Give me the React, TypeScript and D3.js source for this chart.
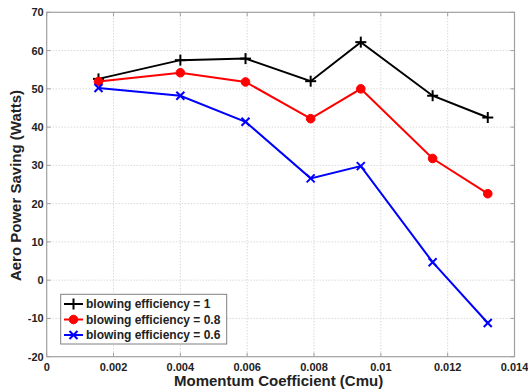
import React from "react";
import * as d3 from "d3";

const xValues = [0.00155, 0.004, 0.00595, 0.0079, 0.0094, 0.01155, 0.0132];
const effOne = [52.6, 57.5, 57.9, 52.0, 62.2, 48.2, 42.5];
const effPoint8 = [51.9, 54.2, 51.8, 42.2, 50.0, 31.8, 22.6];
const effPoint6 = [50.2, 48.2, 41.4, 26.6, 29.8, 4.7, -11.2];
const xTicks = [0, 0.002, 0.004, 0.006, 0.008, 0.01, 0.012, 0.014];
const yTicks = [-20, -10, 0, 10, 20, 30, 40, 50, 60, 70];
const seriesNames = ["blowing efficiency = 1", "blowing efficiency = 0.8", "blowing efficiency = 0.6"];
const seriesColors = ["#000000", "#ff0000", "#0000ff"];
const seriesMarkers = ["plus", "circle", "cross"];

const W = 528, H = 392;
const left = 46.7, right = 514.5, top = 12.3, bottom = 356.7;
const font = "Arial, 'Liberation Sans', Helvetica, sans-serif";

function Marker({ type, x, y, color }: { type: string; x: number; y: number; color: string }) {
  if (type === "plus") {
    return (
      <g stroke={color} strokeWidth={2}>
        <line x1={x - 5.5} x2={x + 5.5} y1={y} y2={y} />
        <line x1={x} x2={x} y1={y - 5.5} y2={y + 5.5} />
      </g>
    );
  }
  if (type === "circle") {
    return <circle cx={x} cy={y} r={4.3} fill={color} stroke={color} strokeWidth={1} />;
  }
  return (
    <g stroke={color} strokeWidth={2}>
      <line x1={x - 4} x2={x + 4} y1={y - 4} y2={y + 4} />
      <line x1={x - 4} x2={x + 4} y1={y + 4} y2={y - 4} />
    </g>
  );
}

export default function App() {
  const x = d3.scaleLinear().domain([0, 0.014]).range([left, right]);
  const y = d3.scaleLinear().domain([-20, 70]).range([bottom, top]);
  const series = [effOne, effPoint8, effPoint6];
  const line = d3
    .line<[number, number]>()
    .x((d) => x(d[0]))
    .y((d) => y(d[1]));
  const fmtX = (v: number) => (v === 0 ? "0" : String(+v.toFixed(3)));

  const lgX = 60.7, lgY = 294.3, lgW = 166, lgH = 49.7;
  const rowY = [304, 319.5, 335];

  return (
    <svg width={W} height={H} style={{ position: "absolute", left: 0, top: 0 }} fontFamily={font}>
      <rect x={0} y={0} width={W} height={H} fill="#ffffff" />
      {/* grid */}
      <g stroke="#c8c8c8" strokeWidth={1} strokeDasharray="1,2">
        {xTicks.slice(1, -1).map((t) => (
          <line key={"gx" + t} x1={x(t)} x2={x(t)} y1={top} y2={bottom} />
        ))}
        {yTicks.slice(1, -1).map((t) => (
          <line key={"gy" + t} x1={left} x2={right} y1={y(t)} y2={y(t)} />
        ))}
      </g>
      {/* frame */}
      <rect x={left} y={top} width={right - left} height={bottom - top} fill="none" stroke="#a0a0a0" strokeWidth={1.2} />
      {/* ticks */}
      <g stroke="#a0a0a0" strokeWidth={1}>
        {xTicks.map((t) => (
          <g key={"tx" + t}>
            <line x1={x(t)} x2={x(t)} y1={bottom} y2={bottom - 4} />
            <line x1={x(t)} x2={x(t)} y1={top} y2={top + 4} />
          </g>
        ))}
        {yTicks.map((t) => (
          <g key={"ty" + t}>
            <line x1={left} x2={left + 4} y1={y(t)} y2={y(t)} />
            <line x1={right} x2={right - 4} y1={y(t)} y2={y(t)} />
          </g>
        ))}
      </g>
      {/* tick labels */}
      <g fontSize={11} fontWeight="bold" fill="#222">
        {xTicks.map((t) => (
          <text key={"lx" + t} x={x(t)} y={bottom + 14} textAnchor="middle">
            {fmtX(t)}
          </text>
        ))}
        {yTicks.map((t) => (
          <text key={"ly" + t} x={left - 3} y={y(t) + 4} textAnchor="end">
            {t}
          </text>
        ))}
      </g>
      {/* axis labels */}
      <text x={(left + right) / 2 - 2} y={386} textAnchor="middle" fontSize={15} fontWeight="bold" fill="#222">
        Momentum Coefficient (Cmu)
      </text>
      <text
        transform={`translate(21, ${(top + bottom) / 2 + 1}) rotate(-90)`}
        textAnchor="middle"
        fontSize={15}
        fontWeight="bold"
        fill="#222"
      >
        Aero Power Saving (Watts)
      </text>
      {/* series */}
      {series.map((vals, i) => {
        const pts: [number, number][] = xValues.map((xv, j) => [xv, vals[j]]);
        return (
          <g key={"s" + i}>
            <path d={line(pts) || ""} fill="none" stroke={seriesColors[i]} strokeWidth={2} />
            {pts.map((p, j) => (
              <Marker key={j} type={seriesMarkers[i]} x={x(p[0])} y={y(p[1])} color={seriesColors[i]} />
            ))}
          </g>
        );
      })}
      {/* legend */}
      <rect x={lgX} y={lgY} width={lgW} height={lgH} fill="#ffffff" stroke="#808080" strokeWidth={1} />
      {seriesNames.map((name, i) => (
        <g key={"lg" + i}>
          <line x1={64} x2={83} y1={rowY[i]} y2={rowY[i]} stroke={seriesColors[i]} strokeWidth={2} />
          <Marker type={seriesMarkers[i]} x={73.5} y={rowY[i]} color={seriesColors[i]} />
          <text x={86} y={rowY[i] + 4.3} fontSize={12} fontWeight="bold" fill="#222">
            {name}
          </text>
        </g>
      ))}
    </svg>
  );
}
